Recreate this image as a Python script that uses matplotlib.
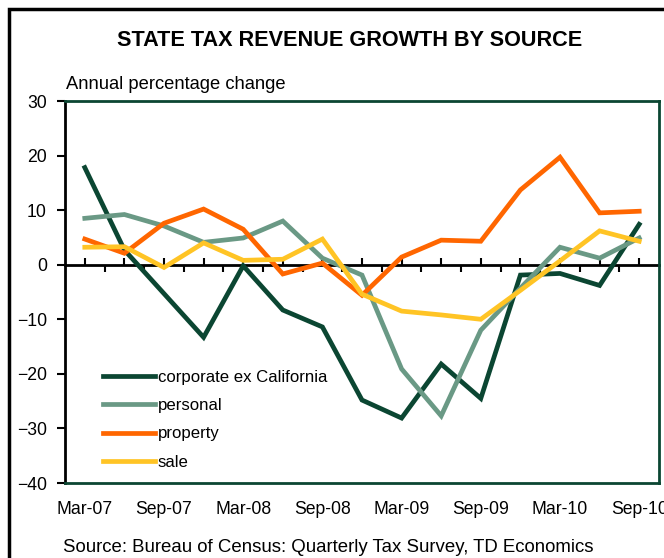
import matplotlib
matplotlib.use("Agg")
import matplotlib.pyplot as plt
from matplotlib.patches import Rectangle
from matplotlib.ticker import FixedLocator

plt.rcParams['font.family'] = ['Liberation Sans', 'DejaVu Sans']

# quarterly data, Mar-07 .. Sep-10
QUARTERS = ["Mar-07", "Jun-07", "Sep-07", "Dec-07", "Mar-08", "Jun-08", "Sep-08", "Dec-08",
            "Mar-09", "Jun-09", "Sep-09", "Dec-09", "Mar-10", "Jun-10", "Sep-10"]
corporate = [17.8, 2.7, -5.3, -13.3, -0.2, -8.3, -11.4, -24.8, -28.1, -18.2, -24.5, -1.9, -1.6, -3.8, 7.4]
personal = [8.5, 9.2, 7.1, 4.1, 4.9, 8.0, 1.2, -1.9, -19.1, -27.7, -12.0, -4.3, 3.2, 1.2, 4.9]
property_ = [4.7, 2.1, 7.6, 10.2, 6.5, -1.7, 0.3, -5.6, 1.4, 4.5, 4.3, 13.7, 19.7, 9.5, 9.8]
sale = [3.2, 3.3, -0.5, 4.0, 0.8, 1.0, 4.7, -5.4, -8.5, -9.2, -10.0, -4.7, 0.7, 6.2, 4.3]

SERIES = [("corporate ex California", corporate, "#0b4632"),
          ("personal", personal, "#6a9985"),
          ("property", property_, "#ff6600"),
          ("sale", sale, "#ffc425")]
GREEN = "#0b4632"

fig = plt.figure(figsize=(6.64, 5.58), dpi=100)
ax = fig.add_axes([65 / 664, 75 / 558, 594 / 664, 382 / 558])

x = list(range(len(QUARTERS)))
for label, vals, col in SERIES:
    ax.plot(x, vals, color=col, linewidth=3.4, label=label, solid_joinstyle='miter')

ax.set_xlim(-0.5, len(QUARTERS) - 0.5)
ax.set_ylim(-40, 30)
ax.set_yticks(range(-40, 31, 10))

# frame
for s in ["top", "right", "bottom"]:
    ax.spines[s].set_color(GREEN)
    ax.spines[s].set_linewidth(2)
ax.spines["left"].set_color("black")
ax.spines["left"].set_linewidth(2)

ax.tick_params(axis="y", direction="out", length=6, width=1.5, pad=7, labelsize=12.7)
ax.set_xticks(x[::2])
ax.set_xticklabels(QUARTERS[::2])
ax.tick_params(axis="x", length=0, pad=13, labelsize=12.7)

# zero line with tick marks
zero = ax.secondary_xaxis(0, transform=ax.transData)
zero.spines["bottom"].set_color("black")
zero.spines["bottom"].set_linewidth(2)
zero.set_xticks(x)
zero.xaxis.set_minor_locator(FixedLocator([i + 0.5 for i in x[:-1]]))
zero.tick_params(axis="x", which="major", direction="in", length=5, width=1.5, labelbottom=False)
zero.tick_params(axis="x", which="minor", direction="out", length=5, width=1.5)

leg = ax.legend(loc="upper left", bbox_to_anchor=(0.064, 0.297), frameon=False, fontsize=12.1,
                handlelength=3.1, handletextpad=0.15, labelspacing=0.8, borderpad=0, borderaxespad=0)

fig.text(0.527, 0.928, "STATE TAX REVENUE GROWTH BY SOURCE", ha="center", va="center",
         fontsize=15.6, fontweight="bold")
fig.text(66 / 664, 1 - 85 / 558, "Annual percentage change", ha="left", va="center", fontsize=13.2)
fig.text(63 / 664, 1 - 547 / 558, "Source: Bureau of Census: Quarterly Tax Survey, TD Economics",
         ha="left", va="center", fontsize=13.4)

# outer border (cut off on right and bottom)
fig.patches.append(Rectangle((9 / 664, -0.1), 1.2, (558 - 9) / 558 + 0.1, transform=fig.transFigure,
                             fill=False, edgecolor="black", linewidth=2.5))

fig.savefig("out.png", dpi=100)
